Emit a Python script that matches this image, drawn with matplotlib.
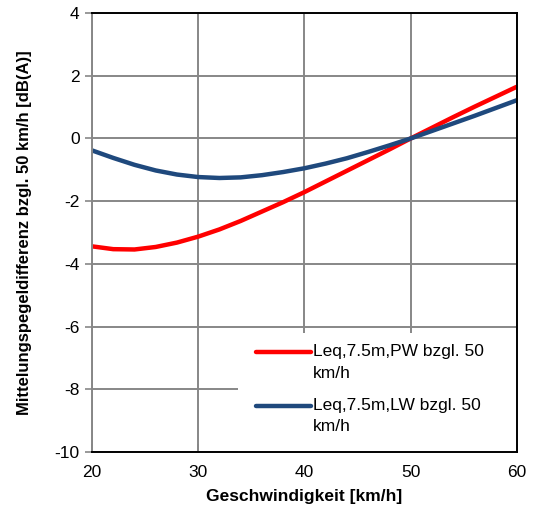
import matplotlib
matplotlib.use('Agg')
import matplotlib.pyplot as plt
from matplotlib.lines import Line2D
from matplotlib.patches import Rectangle

plt.rcParams['font.family'] = ['Liberation Sans', 'DejaVu Sans']
plt.rcParams['axes.unicode_minus'] = False

# speeds in km/h
speed = [20, 22, 24, 26, 28, 30, 32, 34, 36, 38, 40,
         42, 44, 46, 48, 50, 52, 54, 56, 58, 60]
# level difference relative to 50 km/h, dB(A)
pw = [-3.44, -3.53, -3.54, -3.46, -3.32, -3.13, -2.90, -2.63, -2.33, -2.03, -1.71,
      -1.37, -1.03, -0.69, -0.35, 0.0, 0.34, 0.68, 1.01, 1.33, 1.65]
lw = [-0.38, -0.62, -0.84, -1.02, -1.15, -1.23, -1.26, -1.24, -1.17, -1.07, -0.95,
      -0.80, -0.63, -0.43, -0.22, 0.0, 0.24, 0.48, 0.72, 0.97, 1.22]

labels = [["Leq,7.5m,PW bzgl. 50", "km/h"],
          ["Leq,7.5m,LW bzgl. 50", "km/h"]]
colors = ['#ff0000', '#1f497d']
fs = 12.5

fig = plt.figure(figsize=(5.35, 5.17), dpi=100)
ax = fig.add_axes([0.172, 0.1257, 0.794, 0.849])

ax.plot(speed, pw, color=colors[0], lw=3.2, solid_capstyle='butt', zorder=3)
ax.plot(speed, lw, color=colors[1], lw=3.2, solid_capstyle='butt', zorder=3)

ax.set_xlim(20, 60)
ax.set_ylim(-10, 4)
ax.set_xticks(range(20, 61, 10))
ax.set_yticks(range(-10, 5, 2))
ax.grid(True, color='#878787', lw=1.4, zorder=0)
ax.set_axisbelow(True)
ax.tick_params(axis='y', length=5, width=1.2, color='#878787', labelsize=fs, pad=4)
ax.tick_params(axis='x', direction='in', length=6, width=1.2, color='#878787',
               labelsize=fs, pad=9)

for s in ['top', 'right', 'bottom']:
    ax.spines[s].set_color('black')
    ax.spines[s].set_linewidth(1.4)
ax.spines['left'].set_color('#878787')
ax.spines['left'].set_linewidth(1.4)
for s in ax.spines.values():
    s.set_zorder(6)

ax.set_xlabel('Geschwindigkeit [km/h]', fontsize=fs, fontweight='bold', labelpad=7)
ax.set_ylabel('Mittelungspegeldifferenz bzgl. 50 km/h [dB(A)]', fontsize=12,
              fontweight='bold', labelpad=16)

# legend box drawn in axes coordinates
ax.add_patch(Rectangle((0.344, 0.0), 0.656, 0.271, transform=ax.transAxes,
                       facecolor='white', edgecolor='none', zorder=4))
entry_y = [0.228, 0.105]
line_gap = 0.048
for (l1, l2), c, y in zip(labels, colors, entry_y):
    ax.add_line(Line2D([0.386, 0.515], [y, y], transform=ax.transAxes,
                       color=c, lw=3.2, solid_capstyle='round', zorder=5))
    ax.text(0.52, y, l1, transform=ax.transAxes, fontsize=fs,
            va='center', ha='left', zorder=5)
    ax.text(0.52, y - line_gap, l2, transform=ax.transAxes, fontsize=fs,
            va='center', ha='left', zorder=5)

plt.savefig('out.png', dpi=100)
